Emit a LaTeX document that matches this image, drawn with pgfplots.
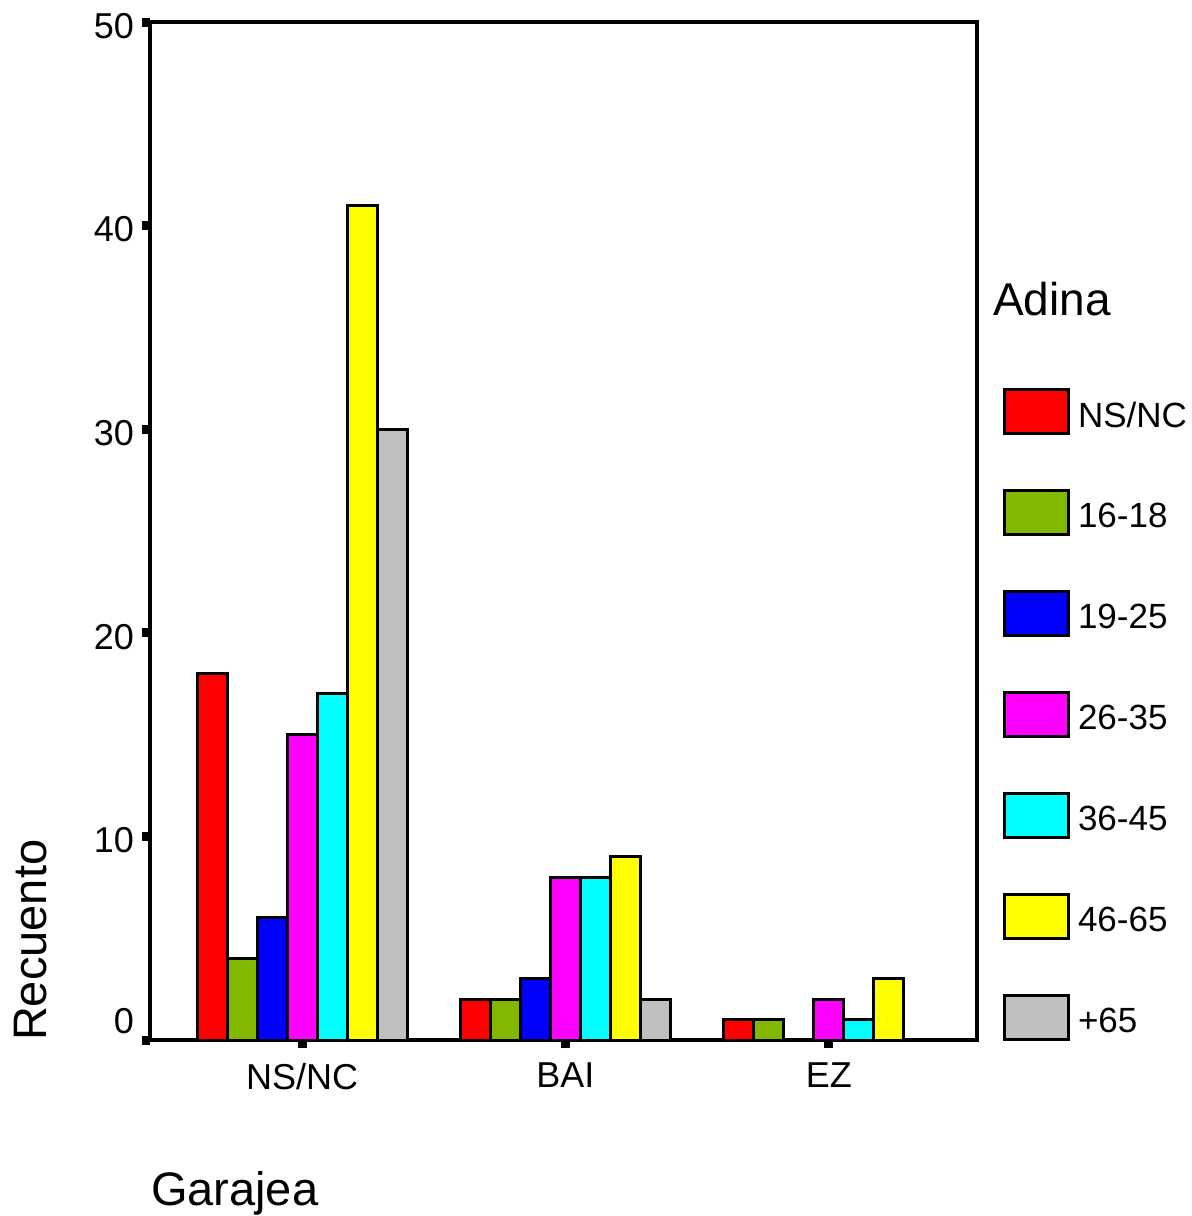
\documentclass[border=0pt]{standalone}
\usepackage{fontspec}
\setmainfont{Liberation Sans}
\usepackage{pgfplots}
\pgfplotsset{compat=1.18}
\definecolor{cRed}{RGB}{255,0,0}
\definecolor{cGreen}{RGB}{130,184,0}
\definecolor{cBlue}{RGB}{0,0,255}
\definecolor{cMag}{RGB}{255,0,255}
\definecolor{cCyan}{RGB}{0,255,255}
\definecolor{cYel}{RGB}{255,255,0}
\definecolor{cGray}{RGB}{192,192,192}
\begin{document}
\begin{tikzpicture}
\begin{axis}[
  at={(0pt,0pt)}, anchor=south west,
  scale only axis, width=413.5pt, height=509pt,
  ybar=0pt, bar width=15pt,
  legend image code/.code={\draw[#1, line width=1.5pt] (0pt,-11pt) rectangle (32pt,11pt);},
  xmin=-0.577, xmax=2.562, ymin=0, ymax=50,
  xtick={0,1,2}, xticklabels={NS/NC,BAI,EZ},
  ytick={0,10,20,30,40,50},
  yticklabels={\raisebox{23pt}{0},10,20,30,40,50},
  xtick pos=bottom, ytick pos=left,
  tick align=outside, major tick length=4pt,
  every tick/.style={black, line width=4.5pt},
  axis line style={line width=2pt},
  /pgf/number format/assume math mode=true,
  ticklabel style={font=\fontsize{18pt}{21pt}\selectfont},
  yticklabel style={xshift=-0.5pt, yshift=-2pt},
  xticklabel style={yshift=-4pt},
  xlabel={Garajea},
  xlabel style={at={(axis description cs:0,0)}, anchor=base west, xshift=-3pt, yshift=-82.5pt, font=\fontsize{23.5pt}{28pt}\selectfont},
  ylabel={Recuento},
  ylabel style={at={(axis description cs:0,0)}, anchor=base west, xshift=-4pt, yshift=51.5pt, font=\fontsize{23.5pt}{28pt}\selectfont},
  title={Adina},
  title style={at={(rel axis cs:1,0)}, anchor=base west, xshift=4.5pt, yshift=356pt, font=\fontsize{23pt}{28pt}\selectfont},
  legend style={at={(rel axis cs:1,0)}, anchor=north west, xshift=13pt, yshift=326pt,
    draw=none, fill=none, inner sep=0pt, outer sep=0pt, row sep=27pt, column sep=4pt,
    nodes={inner sep=0pt, anchor=west, yshift=-2.25pt, font=\fontsize{17.5pt}{21pt}\selectfont}},
  legend cell align=left,
  every axis plot/.append style={draw=black, line width=1.5pt},
]
\addplot[fill=cRed] coordinates {(0,18) (1,2) (2,1)};
\addplot[fill=cGreen] coordinates {(0,4) (1,2) (2,1)};
\addplot[fill=cBlue] coordinates {(0,6) (1,3)};
\addplot[fill=cMag] coordinates {(0,15) (1,8) (2,2)};
\addplot[fill=cCyan] coordinates {(0,17) (1,8) (2,1)};
\addplot[fill=cYel] coordinates {(0,41) (1,9) (2,3)};
\addplot[fill=cGray] coordinates {(0,30) (1,2)};
\legend{NS/NC,16-18,19-25,26-35,36-45,46-65,+65}
\end{axis}
\pgfresetboundingbox
\path[use as bounding box] (-75pt,-88pt) rectangle (520.5pt,520pt);
\end{tikzpicture}
\end{document}
